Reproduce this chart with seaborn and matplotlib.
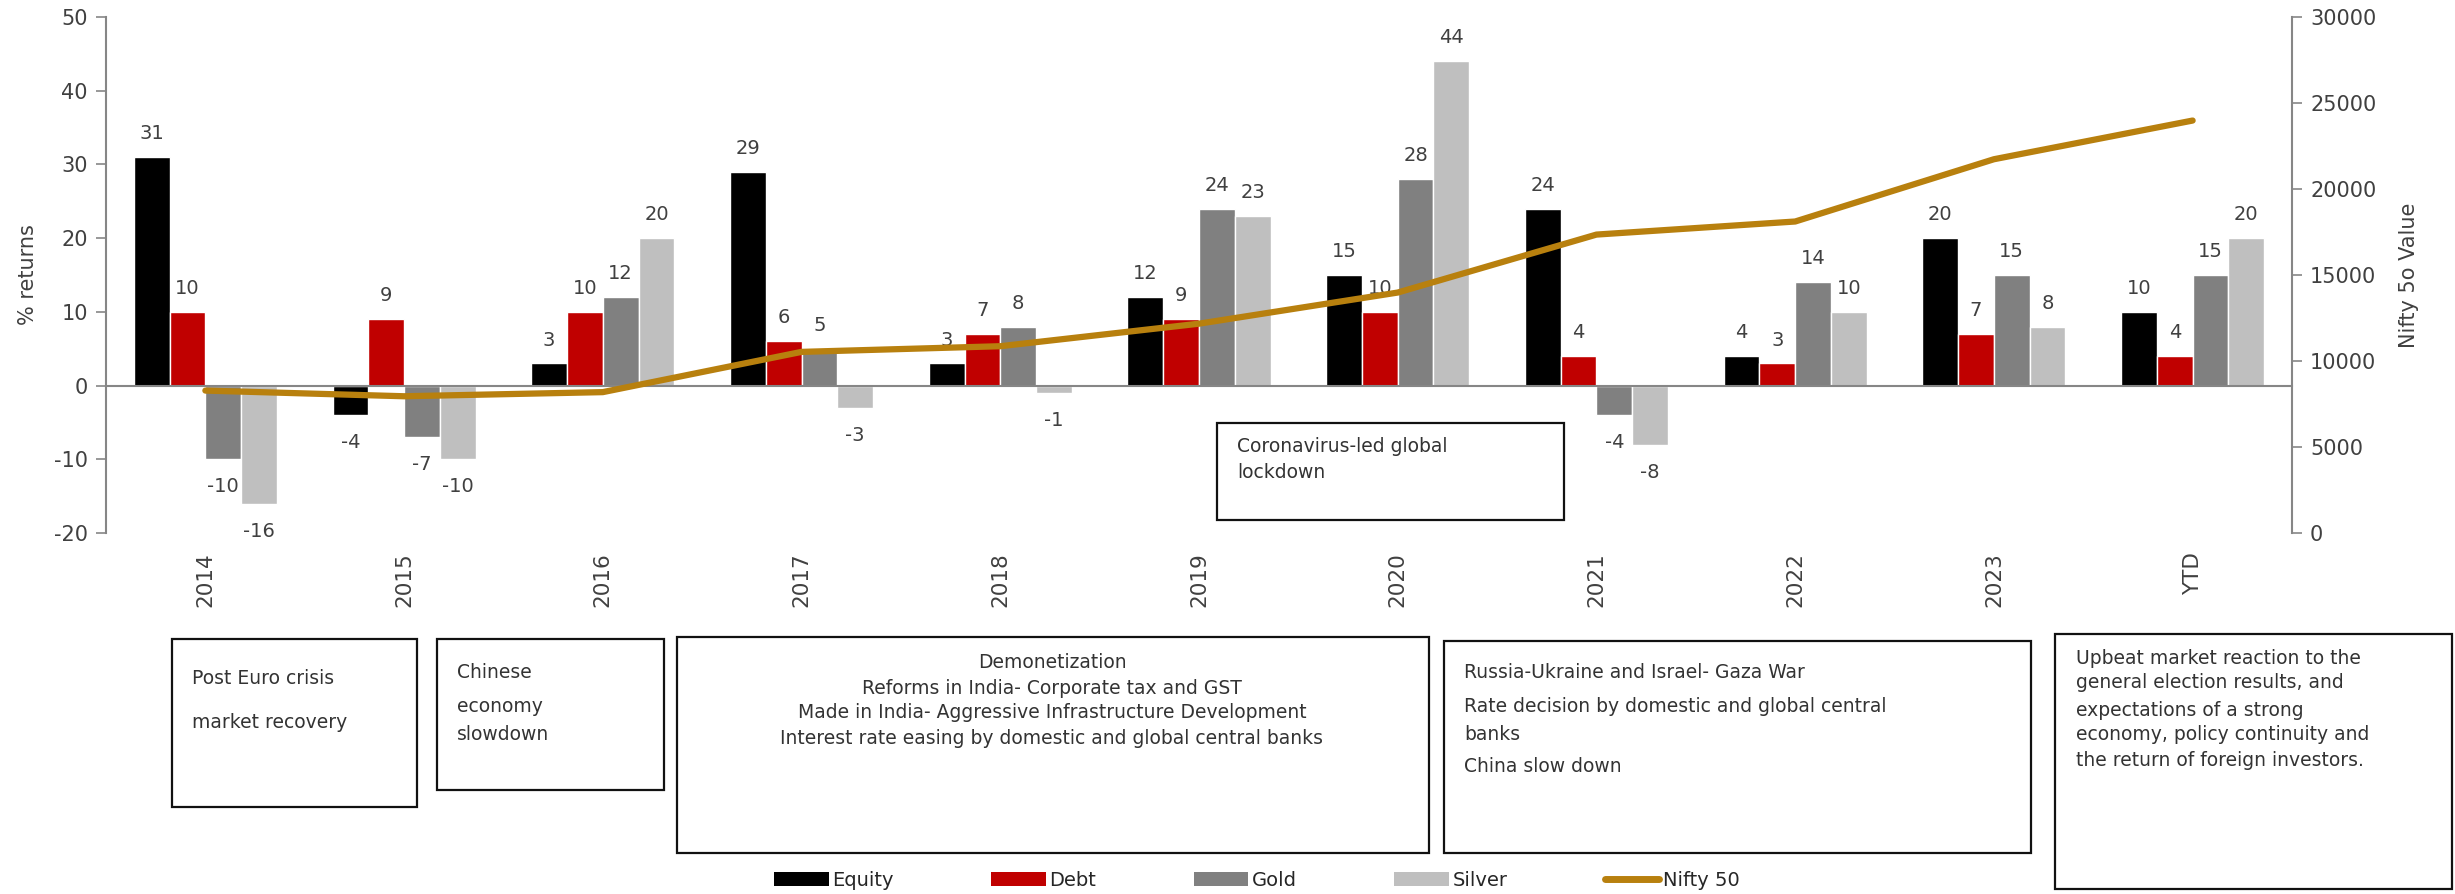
import numpy as np
import pandas as pd
import matplotlib
matplotlib.use("Agg")
import matplotlib.pyplot as plt
import seaborn as sns
from matplotlib.patches import Rectangle, Patch
from matplotlib.lines import Line2D
from matplotlib.transforms import blended_transform_factory

# ---- data -------------------------------------------------------------
years = ["2014", "2015", "2016", "2017", "2018", "2019", "2020", "2021", "2022", "2023", "YTD"]
equity = [31, -4, 3, 29, 3, 12, 15, 24, 4, 20, 10]
debt = [10, 9, 10, 6, 7, 9, 10, 4, 3, 7, 4]
gold = [-10, -7, 12, 5, 8, 24, 28, -4, 14, 15, 15]
silver = [-16, -10, 20, -3, -1, 23, 44, -8, 10, 8, 20]
nifty50 = [8280, 7950, 8190, 10530, 10860, 12170, 13980, 17350, 18110, 21730, 23980]

assets = ["Equity", "Debt", "Gold", "Silver"]
asset_values = [equity, debt, gold, silver]
asset_colors = ["#000000", "#C00000", "#808080", "#BFBFBF"]
line_label = "Nifty 50"
line_color = "#B8800E"

# event notes under the chart: (lines, x, y-centres, alignment) in pixels
notes = [
    (["Post Euro crisis", "market recovery"], 192, [678, 723], "left"),
    (["Chinese", "economy", "slowdown"], 457, [672, 707, 735], "left"),
    (["Demonetization",
      "Reforms in India- Corporate tax and GST",
      "Made in India- Aggressive Infrastructure Development",
      "Interest rate easing by domestic and global central banks"],
     1052, [663, 688, 713, 739], "center"),
    (["Russia-Ukraine and Israel- Gaza War",
      "Rate decision by domestic and global central",
      "banks",
      "China slow down"], 1464, [672, 707, 735, 767], "left"),
    (["Upbeat market reaction to the",
      "general election results, and",
      "expectations of a strong",
      "economy, policy continuity and",
      "the return of foreign investors."], 2076, [658, 683, 710, 735, 760], "left"),
    (["Coronavirus-led global", "lockdown"], 1237, [446, 473], "left"),
]
note_frames = [
    (172, 639, 417, 807),
    (437, 639, 664, 790),
    (677, 637, 1429, 853),
    (1444, 641, 2031, 853),
    (2055, 634, 2452, 889),
    (1217, 423, 1564, 520),
]

# ---- style ------------------------------------------------------------
sns.set_style("white")
plt.rcParams["font.family"] = ["DejaVu Sans"]
plt.rcParams["axes.unicode_minus"] = False
TXT = "#404040"
AXC = "#868686"

W, H = 2455, 894
fig = plt.figure(figsize=(W / 100, H / 100), dpi=100)


def fx(px):
    return px / W


def fy(py):
    return 1 - py / H


ax = fig.add_axes([fx(106), fy(533), fx(2292) - fx(106), fy(17) - fy(533)])

df = pd.DataFrame({
    "Year": np.tile(years, len(assets)),
    "Asset": np.repeat(assets, len(years)),
    "Return": np.concatenate(asset_values),
})

sns.barplot(data=df, x="Year", y="Return", hue="Asset", order=years,
            hue_order=assets, palette=asset_colors, saturation=1,
            width=0.72, gap=0, errorbar=None, legend=False, ax=ax)

# value labels
for cont, vals in zip(ax.containers, asset_values):
    for bar, v in zip(cont, vals):
        xc = bar.get_x() + bar.get_width() / 2
        ax.annotate(f"{v}", (xc, v),
                    xytext=(0, 10 if v >= 0 else -13), textcoords="offset points",
                    ha="center", va="bottom" if v >= 0 else "top",
                    fontsize=14, color=TXT)

ax.set_ylim(-20, 50)
ax.set_yticks(range(-20, 51, 10))
ax.set_xlim(-0.5, len(years) - 0.5)
ax.set_xlabel("")
ax.set_ylabel("% returns", fontsize=15, color=TXT)
ax.yaxis.set_label_coords(-0.031, 0.5)

for s in ["top", "right"]:
    ax.spines[s].set_visible(False)
ax.spines["left"].set_color(AXC)
ax.spines["left"].set_linewidth(1.5)
ax.spines["bottom"].set_position(("data", 0))
ax.spines["bottom"].set_color(AXC)
ax.spines["bottom"].set_linewidth(1.5)

ax.tick_params(axis="y", which="major", direction="out", length=7, width=1.2,
               color=AXC, labelsize=15, labelcolor=TXT, pad=6)
ax.tick_params(axis="x", which="major", length=0, labelbottom=False)
ax.set_xticks(np.arange(-0.5, len(years), 1), minor=True)
ax.tick_params(axis="x", which="minor", direction="out", length=8, width=1.2,
               color=AXC)

# category labels at the bottom of the plot area
trans = blended_transform_factory(ax.transData, ax.transAxes)
for i, yr in enumerate(years):
    ax.text(i, -0.037, yr, rotation=90, ha="center", va="top",
            fontsize=15.5, color=TXT, transform=trans)

# index level on the secondary axis
ax2 = ax.twinx()
sns.lineplot(x=np.arange(len(years)), y=nifty50, ax=ax2, color=line_color,
             linewidth=4.5, solid_capstyle="round", legend=False)
ax2.set_ylim(0, 30000)
ax2.set_yticks(range(0, 30001, 5000))
ax2.set_xlim(-0.5, len(years) - 0.5)
for s in ["top", "left", "bottom"]:
    ax2.spines[s].set_visible(False)
ax2.spines["right"].set_color(AXC)
ax2.spines["right"].set_linewidth(1.5)
ax2.tick_params(axis="y", direction="out", length=7, width=1.2, color=AXC,
                labelsize=15, labelcolor=TXT, pad=6)
ax2.set_ylabel("Nifty 5o Value", fontsize=15, color=TXT, rotation=90)
ax2.yaxis.set_label_coords(1.049, 0.5)

# event notes
for (x0, y0, x1, y1) in note_frames:
    fig.patches.append(Rectangle((fx(x0), fy(y1)), fx(x1) - fx(x0), fy(y0) - fy(y1),
                                 transform=fig.transFigure, facecolor="white",
                                 edgecolor="#111111", linewidth=1.6, zorder=5))
for lines, x, ys, ha in notes:
    for line, y in zip(lines, ys):
        fig.text(fx(x), fy(y), line, ha=ha, va="center", fontsize=13.5,
                 color="#333333", zorder=6)

# legend
handles = [Patch(facecolor=c, edgecolor="none") for c in asset_colors]
handles.append(Line2D([], [], color=line_color, linewidth=5, solid_capstyle="round"))
fig.legend(handles, assets + [line_label], loc="center",
           bbox_to_anchor=(0.512, fy(880)), ncol=5, frameon=False, fontsize=14,
           handlelength=2.8, handleheight=0.7, handletextpad=0.2,
           columnspacing=5.0, labelcolor="#262626")

fig.savefig("out.png", dpi=100)
